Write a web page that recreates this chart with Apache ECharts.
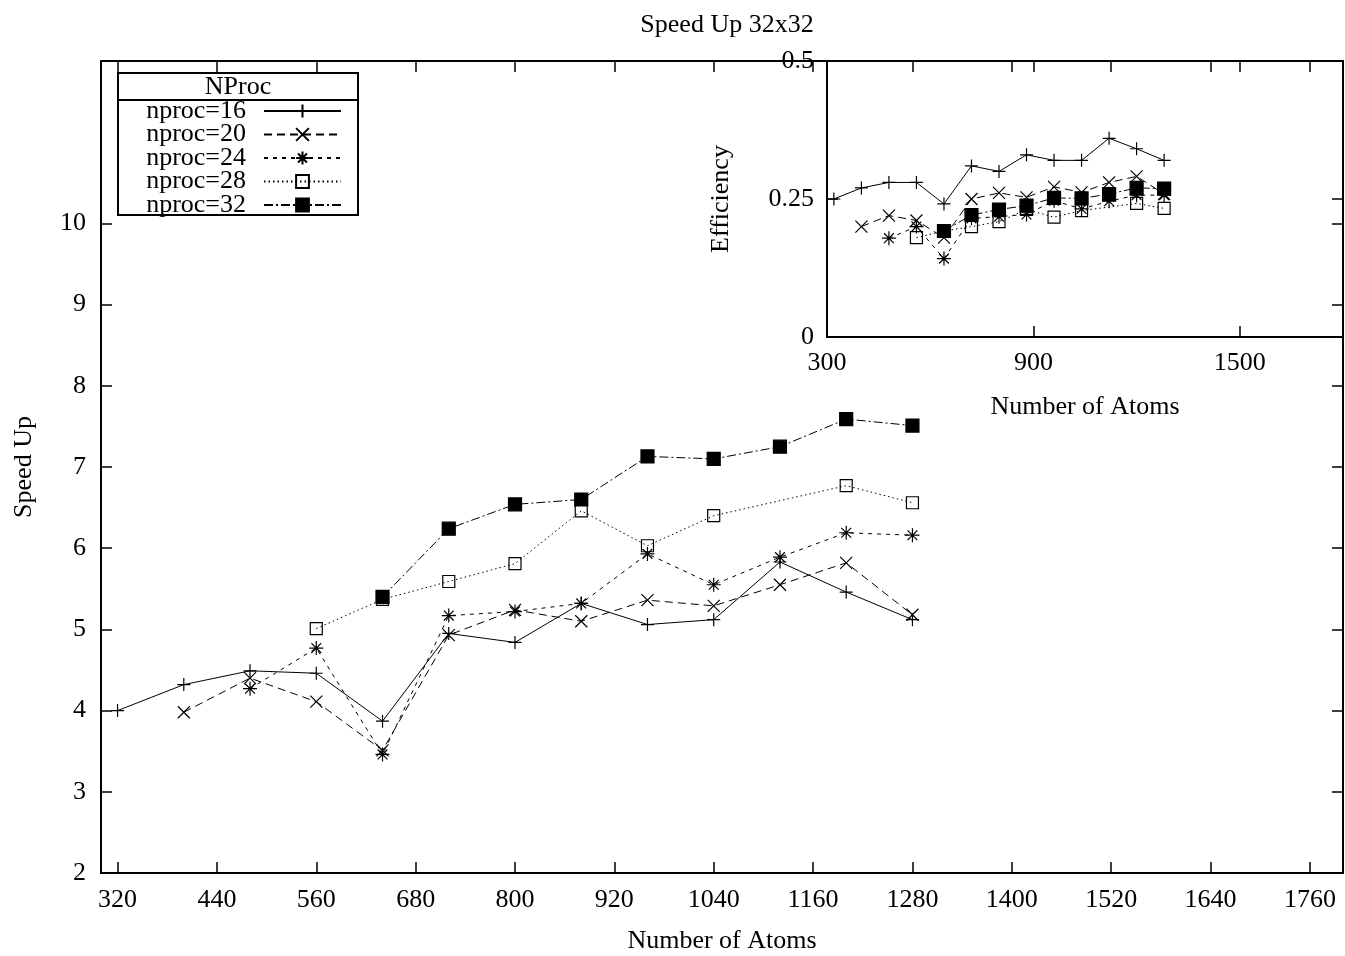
<!DOCTYPE html>
<html><head><meta charset="utf-8">
<script src="https://cdn.jsdelivr.net/npm/echarts@6/dist/echarts.min.js"></script>
<style>html,body{margin:0;padding:0;background:#fff}#c{width:1345px;height:956px}</style>
</head><body><div id="c"></div>
<script>
// ---- data ----
const seriesNames = ['nproc=16', 'nproc=20', 'nproc=24', 'nproc=28', 'nproc=32'];
const atoms16 = [320, 400, 480, 560, 640, 720, 800, 880, 960, 1040, 1120, 1200, 1280];
const atoms20 = [400, 480, 560, 640, 720, 800, 880, 960, 1040, 1120, 1200, 1280];
const atoms24 = [480, 560, 640, 720, 800, 880, 960, 1040, 1120, 1200, 1280];
const atoms28 = [560, 640, 720, 800, 880, 960, 1040, 1200, 1280];
const atoms32 = [640, 720, 800, 880, 960, 1040, 1120, 1200, 1280];

const speedup16 = [4.00, 4.32, 4.49, 4.46, 3.87, 4.95, 4.84, 5.32, 5.06, 5.12, 5.83, 5.46, 5.12];
const speedup20 = [3.98, 4.40, 4.11, 3.51, 4.93, 5.24, 5.10, 5.36, 5.29, 5.55, 5.82, 5.18];
const speedup24 = [4.27, 4.77, 3.46, 5.17, 5.22, 5.32, 5.93, 5.55, 5.89, 6.19, 6.16];
const speedup28 = [5.01, 5.37, 5.59, 5.81, 6.46, 6.03, 6.40, 6.77, 6.56];
const speedup32 = [5.40, 6.24, 6.54, 6.60, 7.13, 7.10, 7.25, 7.59, 7.51];

const eff16 = [0.250, 0.270, 0.280, 0.280, 0.241, 0.310, 0.300, 0.330, 0.320, 0.320, 0.360, 0.341, 0.320];
const eff20 = [0.200, 0.220, 0.211, 0.180, 0.250, 0.261, 0.253, 0.272, 0.262, 0.280, 0.291, 0.259];
const eff24 = [0.179, 0.200, 0.142, 0.215, 0.218, 0.222, 0.247, 0.232, 0.246, 0.257, 0.257];
const eff28 = [0.180, 0.192, 0.200, 0.209, 0.231, 0.217, 0.229, 0.242, 0.233];
const eff32 = [0.192, 0.221, 0.231, 0.238, 0.252, 0.251, 0.259, 0.270, 0.269];

const mainXTicks = [320, 440, 560, 680, 800, 920, 1040, 1160, 1280, 1400, 1520, 1640, 1760];
const mainYTicks = [2, 3, 4, 5, 6, 7, 8, 9, 10];
const insetXTicks = [300, 900, 1500];
const insetYTicks = [0, 0.25, 0.5];

// ---- styling ----
const FONT = 'Liberation Serif';
const FS = 26;
const zip = (xs, ys) => xs.map((x, i) => [x, ys[i]]);
const styles = [
  { symbol: 'path://M0,5L10,5M5,0L5,10', size: 13, fill: '#000', dash: 'solid' },
  { symbol: 'path://M0,0L10,10M10,0L0,10', size: 12, fill: '#000', dash: [8, 5] },
  { symbol: 'path://M0,5L10,5M5,0L5,10M1.5,1.5L8.5,8.5M8.5,1.5L1.5,8.5', size: 14, fill: '#000', dash: [4, 5] },
  { symbol: 'rect', size: 12, fill: 'rgba(0,0,0,0)', dash: [1.5, 3] },
  { symbol: 'rect', size: 13, fill: '#000', dash: [9, 3, 2, 3] }
];
const mainData = [zip(atoms16, speedup16), zip(atoms20, speedup20), zip(atoms24, speedup24), zip(atoms28, speedup28), zip(atoms32, speedup32)];
const insetData = [zip(atoms16, eff16), zip(atoms20, eff20), zip(atoms24, eff24), zip(atoms28, eff28), zip(atoms32, eff32)];

function mkSeries(i, data, xi, yi) {
  const s = styles[i];
  return {
    type: 'line', name: seriesNames[i], data: data,
    xAxisIndex: xi, yAxisIndex: yi,
    symbol: s.symbol, symbolSize: s.size, showAllSymbol: true,
    itemStyle: { color: s.fill, borderColor: '#000', borderWidth: 1.2 },
    lineStyle: { color: '#000', width: 1, type: s.dash },
    emphasis: { disabled: true }, animation: false, z: 2 + i
  };
}

const lineCol = { color: '#000', width: 2 };
function axis(gridIndex, position, min, max, ticks, labelMargin, extra) {
  return Object.assign({
    type: 'value', gridIndex: gridIndex, position: position, min: min, max: max,
    axisLine: { show: true, onZero: false, lineStyle: lineCol },
    axisTick: { show: true, inside: true, length: 11, customValues: ticks, lineStyle: { color: '#000', width: 1.5 } },
    axisLabel: labelMargin != null ? { show: true, customValues: ticks, color: '#000', fontFamily: FONT, fontSize: FS,
      margin: labelMargin, formatter: v => String(v) } : { show: false },
    splitLine: { show: false }
  }, extra || {});
}
const nameStyle = { fontFamily: FONT, fontSize: FS, color: '#000' };

const series = [];
for (let i = 0; i < 5; i++) series.push(mkSeries(i, mainData[i], 0, 0));
for (let i = 0; i < 5; i++) series.push(mkSeries(i, insetData[i], 2, 2));

const chart = echarts.init(document.getElementById('c'));
chart.setOption({
  backgroundColor: '#fff',
  animation: false,
  title: { text: 'Speed Up 32x32', left: 722, top: 7, textAlign: 'center',
    textStyle: { fontFamily: FONT, fontSize: FS, fontWeight: 'normal', color: '#000' } },
  grid: [
    { left: 101, top: 61, width: 1242, height: 812, outerBoundsMode: 'none', containLabel: false },
    { left: 827, top: 61, width: 516, height: 276, outerBoundsMode: 'none', containLabel: false }
  ],
  xAxis: [
    axis(0, 'bottom', 300, 1800, mainXTicks, 14, { name: 'Number of Atoms', nameLocation: 'middle', nameGap: 55, nameTextStyle: nameStyle }),
    axis(0, 'top', 300, 1800, mainXTicks, null),
    axis(1, 'bottom', 300, 1800, insetXTicks, 13, { name: 'Number of Atoms', nameLocation: 'middle', nameGap: 57, nameTextStyle: nameStyle }),
    axis(1, 'top', 300, 1800, insetXTicks, null)
  ],
  yAxis: [
    axis(0, 'left', 2, 12, mainYTicks, 15, { name: 'Speed Up', nameLocation: 'middle', nameGap: 64, nameTextStyle: nameStyle }),
    axis(0, 'right', 2, 12, mainYTicks, null),
    axis(1, 'left', 0, 0.5, insetYTicks, 13, { name: 'Efficiency', nameLocation: 'middle', nameGap: 93, nameTextStyle: nameStyle }),
    axis(1, 'right', 0, 0.5, insetYTicks, null)
  ],
  legend: {
    data: seriesNames, orient: 'vertical', align: 'right',
    right: 1003, top: 98, padding: 0, itemGap: -2.5,
    itemWidth: 77, itemHeight: 16, selectedMode: false,
    textStyle: { fontFamily: FONT, fontSize: FS, color: '#000', padding: [0, 13, 0, 0] }
  },
  graphic: [
    { type: 'rect', shape: { x: 118, y: 73, width: 240, height: 142 }, style: { fill: 'none', stroke: '#000', lineWidth: 2 }, z: 10 },
    { type: 'line', shape: { x1: 118, y1: 100, x2: 358, y2: 100 }, style: { stroke: '#000', lineWidth: 2 }, z: 10 },
    { type: 'text', x: 238, y: 87, style: { text: 'NProc', fontFamily: FONT, fontSize: FS, fill: '#000', align: 'center', verticalAlign: 'middle' }, z: 10 }
  ],
  series: series
});
</script>
</body></html>
